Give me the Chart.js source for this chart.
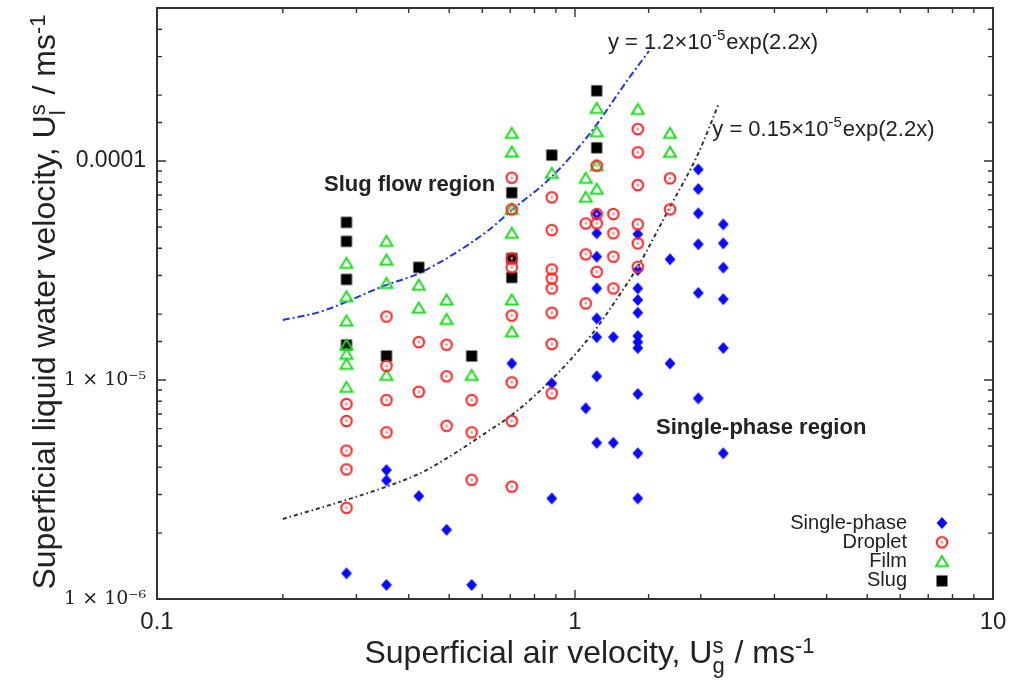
<!DOCTYPE html>
<html>
<head>
<meta charset="utf-8">
<title>Flow regime map</title>
<script src="https://cdn.jsdelivr.net/npm/chart.js@4.4.1/dist/chart.umd.min.js"></script>
<style>
  html, body { margin: 0; padding: 0; background: #fff; }
  #chart { display: block; }
</style>
</head>
<body>
<canvas id="chart" width="1024" height="680"></canvas>
<script>
// ----- Data -----
// each row: [superficial air velocity m/s, superficial liquid water velocity m/s]
const singlePhase = [
  [0.284, 1.31e-6],
  [0.354, 3.88e-6], [0.354, 3.48e-6], [0.354, 1.16e-6],
  [0.423, 2.95e-6],
  [0.493, 2.07e-6],
  [0.566, 1.16e-6],
  [0.706, 1.19e-5],
  [0.880, 9.66e-6], [0.880, 2.88e-6],
  [1.061, 7.43e-6],
  [1.127, 5.73e-5], [1.127, 4.68e-5], [1.127, 3.66e-5], [1.127, 2.62e-5],
  [1.127, 1.91e-5], [1.127, 1.57e-5], [1.127, 1.04e-5], [1.127, 5.17e-6],
  [1.235, 1.57e-5], [1.235, 5.17e-6],
  [1.413, 4.64e-5], [1.413, 3.18e-5], [1.413, 2.62e-5], [1.413, 2.32e-5],
  [1.413, 2.03e-5], [1.413, 1.59e-5], [1.413, 1.49e-5], [1.413, 1.40e-5],
  [1.413, 8.63e-6], [1.413, 4.63e-6], [1.413, 2.88e-6],
  [1.688, 3.56e-5], [1.688, 1.19e-5],
  [1.972, 9.16e-5], [1.972, 7.45e-5], [1.972, 5.77e-5], [1.972, 4.17e-5],
  [1.972, 2.50e-5], [1.972, 8.25e-6],
  [2.263, 5.14e-5], [2.263, 4.21e-5], [2.263, 3.26e-5], [2.263, 2.34e-5],
  [2.263, 1.40e-5], [2.263, 4.63e-6]
];

const droplet = [
  [0.284, 7.77e-6], [0.284, 6.50e-6], [0.284, 4.76e-6], [0.284, 3.91e-6], [0.284, 2.61e-6],
  [0.354, 1.95e-5], [0.354, 1.16e-5], [0.354, 8.10e-6], [0.354, 5.77e-6],
  [0.423, 1.49e-5], [0.423, 8.84e-6],
  [0.493, 1.45e-5], [0.493, 1.04e-5], [0.493, 6.18e-6],
  [0.566, 8.10e-6], [0.566, 5.77e-6], [0.566, 3.50e-6],
  [0.706, 8.39e-5], [0.706, 6.02e-5], [0.706, 3.59e-5], [0.706, 3.27e-5],
  [0.706, 1.97e-5], [0.706, 9.76e-6], [0.706, 6.50e-6], [0.706, 3.26e-6],
  [0.880, 6.83e-5], [0.880, 4.84e-5], [0.880, 3.20e-5], [0.880, 2.91e-5],
  [0.880, 2.62e-5], [0.880, 2.03e-5], [0.880, 1.46e-5], [0.880, 8.70e-6],
  [1.061, 5.19e-5], [1.061, 3.75e-5], [1.061, 2.24e-5],
  [1.127, 9.52e-5], [1.127, 5.73e-5], [1.127, 5.19e-5], [1.127, 3.12e-5],
  [1.235, 5.73e-5], [1.235, 4.68e-5], [1.235, 3.66e-5], [1.235, 2.62e-5],
  [1.413, 1.40e-4], [1.413, 1.096e-4], [1.413, 7.77e-5], [1.413, 5.14e-5],
  [1.413, 4.21e-5], [1.413, 3.29e-5],
  [1.688, 8.34e-5], [1.688, 6.02e-5]
];

const film = [
  [0.284, 3.41e-5], [0.284, 2.40e-5], [0.284, 1.86e-5], [0.284, 1.445e-5],
  [0.284, 1.31e-5], [0.284, 1.18e-5], [0.284, 9.26e-6],
  [0.354, 4.30e-5], [0.354, 3.53e-5], [0.354, 2.76e-5], [0.354, 1.05e-5],
  [0.423, 2.71e-5], [0.423, 2.13e-5],
  [0.493, 2.32e-5], [0.493, 1.89e-5],
  [0.566, 1.05e-5],
  [0.706, 1.338e-4], [0.706, 1.099e-4], [0.706, 6.02e-5], [0.706, 4.68e-5],
  [0.706, 2.32e-5], [0.706, 1.66e-5],
  [0.880, 8.79e-5],
  [1.061, 8.34e-5], [1.061, 6.83e-5],
  [1.127, 1.74e-4], [1.127, 1.361e-4], [1.127, 9.52e-5], [1.127, 7.43e-5],
  [1.413, 1.72e-4],
  [1.688, 1.338e-4], [1.688, 1.096e-4]
];

const slug = [
  [0.284, 5.25e-5], [0.284, 4.30e-5], [0.284, 2.88e-5], [0.284, 1.445e-5],
  [0.354, 1.287e-5],
  [0.423, 3.27e-5],
  [0.566, 1.287e-5],
  [0.706, 7.17e-5], [0.706, 3.59e-5], [0.706, 2.94e-5],
  [0.880, 1.065e-4],
  [1.127, 2.094e-4], [1.127, 1.15e-4]
];

// boundary lines
const slugBoundary = [
  [0.200, 1.88e-5], [0.2455, 2.05e-5], [0.354, 2.72e-5], [0.423, 3.07e-5],
  [0.615, 4.76e-5], [0.706, 5.97e-5], [0.880, 8.48e-5], [1.086, 1.338e-4],
  [1.354, 2.43e-4], [1.503, 3.18e-4]
];
const singleBoundary = [
  [0.200, 2.32e-6], [0.283, 2.83e-6], [0.354, 3.26e-6], [0.426, 3.75e-6],
  [0.493, 4.39e-6], [0.626, 5.91e-6], [0.706, 6.92e-6], [0.880, 1.007e-5],
  [1.086, 1.577e-5], [1.302, 2.58e-5], [1.413, 3.29e-5], [1.688, 6.18e-5],
  [1.972, 1.084e-4], [2.203, 1.81e-4]
];

// ----- Tick labels -----
const xTickValues = [0.1, 1, 10];
const xTickText = ['0.1', '1', '10'];
const yTickValues = [1e-4, 1e-5, 1e-6];
const yTickText = ['0.0001', '1 × 10⁻⁵', '1 × 10⁻⁶'];

const SANS = '"Liberation Sans", Arial, sans-serif';
const SERIF = '"DejaVu Serif", serif';
const TEXT = '#222';

function findTick(values, v) {
  return values.findIndex(t => Math.abs(Math.log10(t) - Math.log10(v)) < 1e-6);
}
function isDecade(v) {
  const l = Math.log10(v);
  return Math.abs(l - Math.round(l)) < 1e-6;
}

// ----- Marker images -----
function makeMarker(draw) {
  const c = document.createElement('canvas');
  c.width = 18;
  c.height = 18;
  draw(c.getContext('2d'), 9);
  return c;
}
const markers = {
  single: makeMarker((g, m) => {
    g.fillStyle = '#0a0aff';
    g.beginPath();
    g.moveTo(m, m - 6); g.lineTo(m + 5.4, m); g.lineTo(m, m + 6); g.lineTo(m - 5.4, m);
    g.closePath();
    g.fill();
  }),
  droplet: makeMarker((g, m) => {
    g.strokeStyle = '#ff2626';
    g.lineWidth = 2;
    g.beginPath(); g.arc(m, m, 5.3, 0, Math.PI * 2); g.stroke();
    g.fillStyle = '#ff8a8a';
    g.beginPath(); g.arc(m, m, 1.4, 0, Math.PI * 2); g.fill();
  }),
  film: makeMarker((g, m) => {
    g.strokeStyle = '#1fdc1f';
    g.lineWidth = 2;
    g.beginPath();
    g.moveTo(m, m - 5.6); g.lineTo(m + 6, m + 4.6); g.lineTo(m - 6, m + 4.6);
    g.closePath();
    g.stroke();
  }),
  slug: makeMarker((g, m) => {
    g.fillStyle = '#000';
    g.fillRect(m - 5.5, m - 5.5, 11, 11);
  })
};

const legendItems = [
  { label: 'Single-phase', marker: markers.single },
  { label: 'Droplet', marker: markers.droplet },
  { label: 'Film', marker: markers.film },
  { label: 'Slug', marker: markers.slug }
];

// ----- Rich text (sub / superscripts) -----
function partWidth(ctx, p, size, font) {
  if (typeof p === 'string') {
    ctx.font = `${font.weight || ''} ${size}px ${font.family}`;
    return ctx.measureText(p).width;
  }
  ctx.font = `${Math.round(size * 0.7)}px ${font.family}`;
  const a = p.sup ? ctx.measureText(p.sup).width : 0;
  const b = p.sub ? ctx.measureText(p.sub).width : 0;
  return Math.max(a, b) + 1;
}
function drawRich(ctx, parts, x, y, size, font, align) {
  const total = parts.reduce((s, p) => s + partWidth(ctx, p, size, font), 0);
  let cx = align === 'center' ? x - total / 2 : align === 'right' ? x - total : x;
  ctx.textAlign = 'left';
  ctx.textBaseline = 'alphabetic';
  parts.forEach(p => {
    const w = partWidth(ctx, p, size, font);
    if (typeof p === 'string') {
      ctx.fillText(p, cx, y);
    } else {
      if (p.sup) ctx.fillText(p.sup, cx, y - size * (font.supRaise || 0.32));
      if (p.sub) ctx.fillText(p.sub, cx, y + size * (font.subDrop || 0.3));
    }
    cx += w;
  });
}

const annotations = [
  { parts: ['Slug flow region'], x: 0.251, y: 7.29e-5, size: 22, weight: 'bold' },
  { parts: ['Single-phase region'], x: 1.563, y: 5.67e-6, size: 22, weight: 'bold' },
  { parts: ['y = 1.2×10', { sup: '-5' }, 'exp(2.2x)'], x: 1.199, y: 3.25e-4, size: 22, supRaise: 0.42 },
  { parts: ['y = 0.15×10', { sup: '-5' }, 'exp(2.2x)'], x: 2.13, y: 1.30e-4, size: 22, supRaise: 0.42 }
];

// ----- Plugin: frame, inward ticks, titles, notes, legend -----
const decorations = {
  id: 'decorations',
  afterDatasetsDraw(chart) {
    const { ctx, chartArea: a, scales: { x, y } } = chart;
    ctx.save();

    // inward tick marks on all four sides
    ctx.strokeStyle = '#333';
    ctx.lineWidth = 1.4;
    ctx.beginPath();
    x.ticks.forEach(t => {
      const px = x.getPixelForValue(t.value);
      const len = isDecade(t.value) ? 9 : 5;
      ctx.moveTo(px, a.bottom); ctx.lineTo(px, a.bottom - len);
      ctx.moveTo(px, a.top); ctx.lineTo(px, a.top + len);
    });
    y.ticks.forEach(t => {
      const py = y.getPixelForValue(t.value);
      const len = isDecade(t.value) ? 9 : 5;
      ctx.moveTo(a.left, py); ctx.lineTo(a.left + len, py);
      ctx.moveTo(a.right, py); ctx.lineTo(a.right - len, py);
    });
    ctx.stroke();

    // frame
    ctx.lineWidth = 2;
    ctx.strokeStyle = '#333';
    ctx.strokeRect(a.left, a.top, a.right - a.left, a.bottom - a.top);

    ctx.fillStyle = TEXT;

    // notes and equations
    annotations.forEach(n => {
      drawRich(ctx, n.parts, x.getPixelForValue(n.x), y.getPixelForValue(n.y), n.size,
        { family: SANS, weight: n.weight, supRaise: n.supRaise }, 'left');
    });

    // legend, bottom right inside the frame
    ctx.font = `20px ${SANS}`;
    ctx.textAlign = 'right';
    ctx.textBaseline = 'middle';
    legendItems.forEach((item, i) => {
      const ly = a.bottom - 76 + i * 19.3;
      ctx.fillText(item.label, a.right - 86, ly);
      ctx.drawImage(item.marker, a.right - 51 - 9, ly - 9);
    });

    // axis titles
    const titleFont = { family: SANS, supRaise: 0.3, subDrop: 0.3 };
    drawRich(ctx, ['Superficial air velocity, U', { sup: 's', sub: 'g' }, ' / ms', { sup: '-1' }],
      (a.left + a.right) / 2 + 15, 663, 32, titleFont, 'center');

    ctx.save();
    ctx.translate(55, (a.top + a.bottom) / 2 - 2);
    ctx.rotate(-Math.PI / 2);
    drawRich(ctx, ['Superficial liquid water velocity, U', { sup: 's', sub: 'l' }, ' / ms', { sup: '-1' }],
      0, 0, 32, titleFont, 'center');
    ctx.restore();

    ctx.restore();
  }
};

const toPoints = rows => rows.map(([x, y]) => ({ x, y }));

new Chart(document.getElementById('chart'), {
  type: 'scatter',
  data: {
    datasets: [
      { label: 'Droplet', data: toPoints(droplet), pointStyle: markers.droplet },
      { label: 'Single-phase', data: toPoints(singlePhase), pointStyle: markers.single },
      { label: 'Film', data: toPoints(film), pointStyle: markers.film },
      { label: 'Slug', data: toPoints(slug), pointStyle: markers.slug },
      {
        label: 'Slug boundary', data: toPoints(slugBoundary), showLine: true,
        borderColor: '#2233ee', borderWidth: 2, borderDash: [7, 3, 2, 3],
        pointRadius: 0, cubicInterpolationMode: 'monotone'
      },
      {
        label: 'Single-phase boundary', data: toPoints(singleBoundary), showLine: true,
        borderColor: '#333', borderWidth: 2, borderDash: [4, 3, 1.5, 3],
        pointRadius: 0, cubicInterpolationMode: 'monotone'
      }
    ]
  },
  options: {
    responsive: false,
    animation: false,
    layout: { padding: { top: 8, right: 31, left: 0, bottom: 0 } },
    plugins: {
      legend: { display: false },
      tooltip: { enabled: false }
    },
    scales: {
      x: {
        type: 'logarithmic',
        min: 0.1,
        max: 10,
        grid: { display: false, drawTicks: false },
        border: { display: false },
        ticks: {
          autoSkip: false,
          maxRotation: 0,
          padding: 9,
          color: TEXT,
          font: { family: SANS, size: 24 },
          callback: v => {
            const i = findTick(xTickValues, v);
            return i >= 0 ? xTickText[i] : '';
          }
        },
        afterFit: s => {
          s.height = 81;
          s.paddingLeft = 0;
          s.paddingRight = 0;
        }
      },
      y: {
        type: 'logarithmic',
        min: 1e-6,
        max: 5e-4,
        grid: { display: false, drawTicks: false },
        border: { display: false },
        ticks: {
          autoSkip: false,
          padding: 11,
          color: TEXT,
          font: c => (c.tick && Math.abs(c.tick.value - 1e-4) < 1e-9)
            ? { family: SANS, size: 23 }
            : { family: SERIF, size: 19 },
          callback: v => {
            const i = findTick(yTickValues, v);
            return i >= 0 ? yTickText[i] : '';
          }
        },
        afterFit: s => {
          s.width = 157;
          s.paddingTop = 0;
          s.paddingBottom = 0;
        }
      }
    }
  },
  plugins: [decorations]
});
</script>
</body>
</html>
